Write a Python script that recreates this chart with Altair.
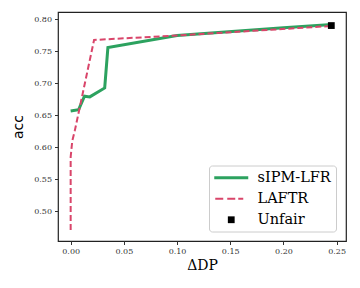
import altair as alt
import pandas as pd

sipm_x = [0.0, 0.0075, 0.013, 0.018, 0.032, 0.035, 0.10, 0.20, 0.2455]
sipm_y = [0.657, 0.659, 0.680, 0.679, 0.693, 0.756, 0.775, 0.787, 0.792]

laftr_x = [0.0, 0.0, 0.0015, 0.004, 0.022, 0.10, 0.242]
laftr_y = [0.471, 0.585, 0.610, 0.627, 0.768, 0.775, 0.7895]

unfair_x = [0.245]
unfair_y = [0.7905]

series = ["sIPM-LFR", "LAFTR", "Unfair"]
colors = ["#2ca25f", "#d9456a", "#000000"]
x_ticks = [0.0, 0.05, 0.10, 0.15, 0.20, 0.25]
y_ticks = [0.50, 0.55, 0.60, 0.65, 0.70, 0.75, 0.80]

# legend glyphs (unit = sqrt(size)/2 px = 5 px), drawn to the right of the symbol anchor
shapes = [
    "M-1.4,-0.3H5.4V0.3H-1.4Z",
    "M-1.2,-0.2H0.4V0.2H-1.2Z M1.2,-0.2H2.8V0.2H1.2Z M3.4,-0.2H4.4V0.2H3.4Z",
    "M1.32,-0.68H2.68V0.68H1.32Z",
]

sipm_df = pd.DataFrame({"dp": sipm_x, "acc": sipm_y, "i": range(len(sipm_x))})
laftr_df = pd.DataFrame({"dp": laftr_x, "acc": laftr_y, "i": range(len(laftr_x))})
unfair_df = pd.DataFrame({"dp": unfair_x, "acc": unfair_y, "method": ["Unfair"]})

xscale = alt.Scale(domain=[-0.0119, 0.2588], nice=False, zero=False)
yscale = alt.Scale(domain=[0.4537, 0.8117], nice=False, zero=False)

xaxis = alt.Axis(values=x_ticks, format=".2f", title="ΔDP",
                 grid=False, labelFont="DejaVu Serif", labelFontSize=8, labelColor="#333",
                 labelOverlap=False, labelFlush=False,
                 titleFont="DejaVu Serif", titleFontSize=14, titleFontWeight="normal",
                 titleColor="#000", tickColor="#333", domain=False, tickSize=3.5,
                 labelPadding=3, titlePadding=3)
yaxis = alt.Axis(values=y_ticks, format=".2f", title="acc",
                 grid=False, labelFont="DejaVu Serif", labelFontSize=8, labelColor="#333",
                 labelOverlap=False, labelFlush=False,
                 titleFont="DejaVu Sans", titleFontSize=14, titleFontWeight="normal",
                 titleColor="#000", tickColor="#333", domain=False, tickSize=3.5,
                 labelPadding=3, titlePadding=8)

legend = alt.Legend(
    title=None, orient="none", legendX=151, legendY=153.5,
    labelFont="DejaVu Serif", labelFontSize=14.5, labelColor="#000",
    labelOffset=29, rowPadding=6, padding=5,
    strokeColor="#cccccc", cornerRadius=3, fillColor="rgba(255,255,255,0.85)",
    symbolSize=100, symbolStrokeWidth=0, symbolOpacity=1,
)

X = alt.X("dp:Q", scale=xscale, axis=xaxis)
Y = alt.Y("acc:Q", scale=yscale, axis=yaxis)

green = alt.Chart(sipm_df).mark_line(strokeWidth=3, color=colors[0]).encode(
    x=X, y=Y, order="i:Q",
)

red = alt.Chart(laftr_df).mark_line(strokeWidth=2, strokeDash=[6, 3], color=colors[1]).encode(
    x=X, y=Y, order="i:Q",
)

pt = alt.Chart(unfair_df).mark_point(size=100, opacity=1, filled=True, strokeWidth=0,
                                     xOffset=-10).encode(
    x=X, y=Y,
    color=alt.Color("method:N", scale=alt.Scale(domain=series, range=colors), legend=legend),
    shape=alt.Shape("method:N", scale=alt.Scale(domain=series, range=shapes), legend=legend),
)

chart = alt.layer(green, red, pt).properties(
    width=288, height=229,
    autosize=alt.AutoSizeParams(type="none"),
    padding={"left": 50, "top": 4, "right": 6, "bottom": 40},
).configure_view(stroke="#222", strokeWidth=1.2).configure_axis(labelOverlap=False)

chart.save("out.html", embed_options={"renderer": "svg", "actions": False})
